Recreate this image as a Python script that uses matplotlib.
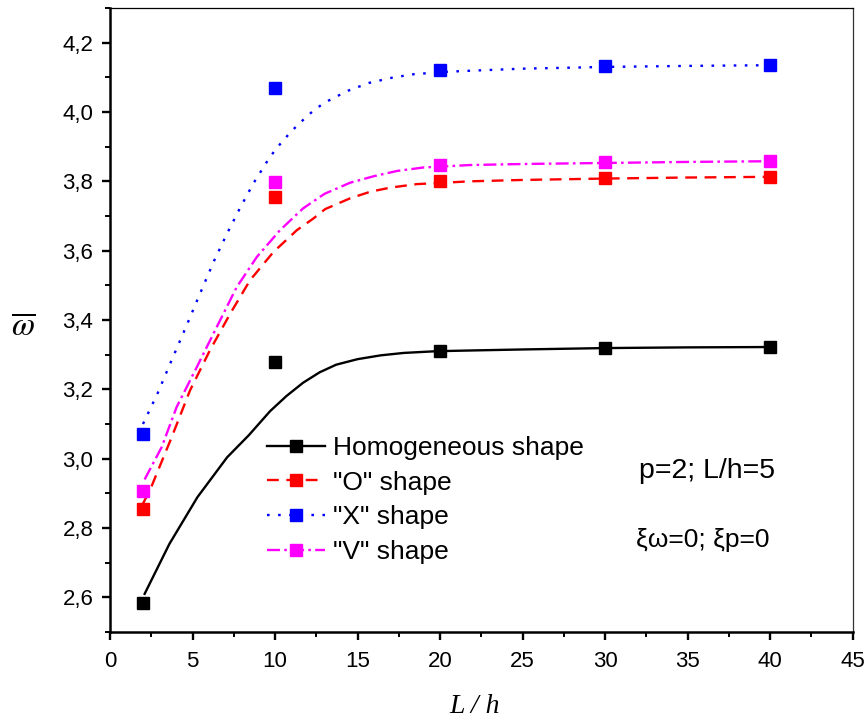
"""
Natural frequency vs L/h for the four porosity shapes.
"""

import matplotlib
matplotlib.use("Agg")
import matplotlib.pyplot as plt
from matplotlib.lines import Line2D
from matplotlib.ticker import MultipleLocator

plt.rcParams["font.family"] = ["Liberation Sans", "DejaVu Sans"]
plt.rcParams["mathtext.fontset"] = "stix"

# computed points
LH = [2, 10, 20, 30, 40]
homog_pts = [2.585, 3.278, 3.311, 3.320, 3.322]
o_pts = [2.856, 3.754, 3.800, 3.811, 3.813]
x_pts = [3.070, 4.069, 4.121, 4.133, 4.135]
v_pts = [2.908, 3.798, 3.847, 3.855, 3.858]

# fitted curves
homog_fit_x = [2.1, 3.6, 5.3, 7.1, 8.4, 9.7, 10.7, 11.7, 12.7, 13.7, 15.0, 16.4,
               17.8, 19.8, 21.8, 25, 30, 35, 40]
homog_fit_y = [2.61, 2.754, 2.889, 3.004, 3.067, 3.137, 3.181, 3.219, 3.249, 3.271,
               3.287, 3.298, 3.305, 3.31, 3.312, 3.315, 3.319, 3.321, 3.322]
o_fit_x = [2.0, 2.5, 3.74, 4.85, 6.06, 7.28, 8.49, 9.9, 11.32, 12.33, 13.04, 14.55,
           15.77, 17.0, 18.6, 21.8, 25, 30, 35, 40]
o_fit_y = [2.87, 2.918, 3.062, 3.197, 3.313, 3.418, 3.515, 3.596, 3.659, 3.693, 3.72,
           3.751, 3.77, 3.782, 3.792, 3.80, 3.804, 3.808, 3.811, 3.813]
x_fit_x = [2.0, 2.9, 3.7, 4.65, 5.4, 6.3, 7.1, 7.9, 8.7, 9.7, 10.3, 11.0, 11.7, 12.3,
           13.0, 14.4, 15.7, 17.1, 18.4, 20.4, 21.8, 25, 30, 35, 40]
x_fit_y = [3.10, 3.19, 3.28, 3.385, 3.47, 3.57, 3.65, 3.725, 3.795, 3.871, 3.907,
           3.945, 3.977, 4.003, 4.027, 4.061, 4.084, 4.099, 4.109, 4.116, 4.119,
           4.125, 4.130, 4.133, 4.135]
v_fit_x = [2.1, 3.13, 4.04, 5.26, 6.47, 7.68, 8.9, 10.3, 11.7, 13.0, 14.55, 16.0,
           17.4, 19.0, 21.8, 25, 30, 35, 40]
v_fit_y = [2.94, 3.033, 3.149, 3.264, 3.38, 3.495, 3.582, 3.659, 3.722, 3.764,
           3.796, 3.815, 3.83, 3.84, 3.847, 3.850, 3.853, 3.856, 3.858]

labels = ["Homogeneous shape", '"O" shape', '"X" shape', '"V" shape']
y_ticks = [2.6, 2.8, 3.0, 3.2, 3.4, 3.6, 3.8, 4.0, 4.2]
y_tick_labels = ["2,6", "2,8", "3,0", "3,2", "3,4", "3,6", "3,8", "4,0", "4,2"]
x_ticks = [0, 5, 10, 15, 20, 25, 30, 35, 40, 45]

series = [
    (homog_fit_x, homog_fit_y, homog_pts, "black", "-"),
    (o_fit_x, o_fit_y, o_pts, "#ff0000", (0, (5, 3.2))),
    (x_fit_x, x_fit_y, x_pts, "#0000ff", (0, (1.1, 3.6))),
    (v_fit_x, v_fit_y, v_pts, "#ff00ff", (0, (5.5, 1.8, 1.1, 1.8))),
]

fig = plt.figure(figsize=(8.68, 7.28), dpi=100)
ax = fig.add_axes([0.1267, 0.1319, 0.8557, 0.8571])

handles = []
for fx, fy, pts, col, ls in series:
    ax.plot(fx, fy, color=col, linestyle=ls, linewidth=1.7, zorder=2)
    ax.plot(LH, pts, linestyle="none", marker="s", markersize=9, color=col, zorder=3)
    handles.append(Line2D([], [], color=col, linestyle=ls, linewidth=1.7,
                          marker="s", markersize=9))

ax.set_xlim(0, 45)
ax.set_ylim(2.5, 4.3)
ax.set_xticks(x_ticks)
ax.set_yticks(y_ticks)
ax.set_yticklabels(y_tick_labels)
ax.xaxis.set_minor_locator(MultipleLocator(2.5))
ax.yaxis.set_minor_locator(MultipleLocator(0.1))
ax.tick_params(which="major", direction="out", length=6, width=1.7, labelsize=16, pad=6)
ax.tick_params(which="minor", direction="out", length=3.5, width=1.4)
ax.tick_params(axis="x", pad=8)
for side in ["left", "bottom"]:
    ax.spines[side].set_linewidth(1.8)
ax.spines["top"].set_linewidth(0.9)
ax.spines["right"].set_linewidth(0.9)
ax.spines["right"].set_color("#333333")

ax.set_xlabel("L / h", fontfamily="Liberation Serif", fontstyle="italic", fontsize=20)
ax.xaxis.set_label_coords(0.491, -0.1)
ax.set_ylabel(r"$\overline{\omega}$", fontsize=24, rotation=0, va="center", ha="center")
ax.yaxis.set_label_coords(-0.117, 0.49)

ax.legend(handles, labels, loc="center left", bbox_to_anchor=(0.2114, 0.2115),
          frameon=False, fontsize=19, handlelength=2.2, handletextpad=0.3,
          labelspacing=0.4, borderpad=0, borderaxespad=0)

ax.text(0.8045, 0.258, "p=2; L/h=5", transform=ax.transAxes, fontsize=20.5,
        ha="center", va="center")
ax.text(0.7985, 0.147, "ξω=0; ξp=0", transform=ax.transAxes, fontsize=19,
        ha="center", va="center")

fig.savefig("out.png", dpi=100, facecolor="white")
plt.close(fig)
